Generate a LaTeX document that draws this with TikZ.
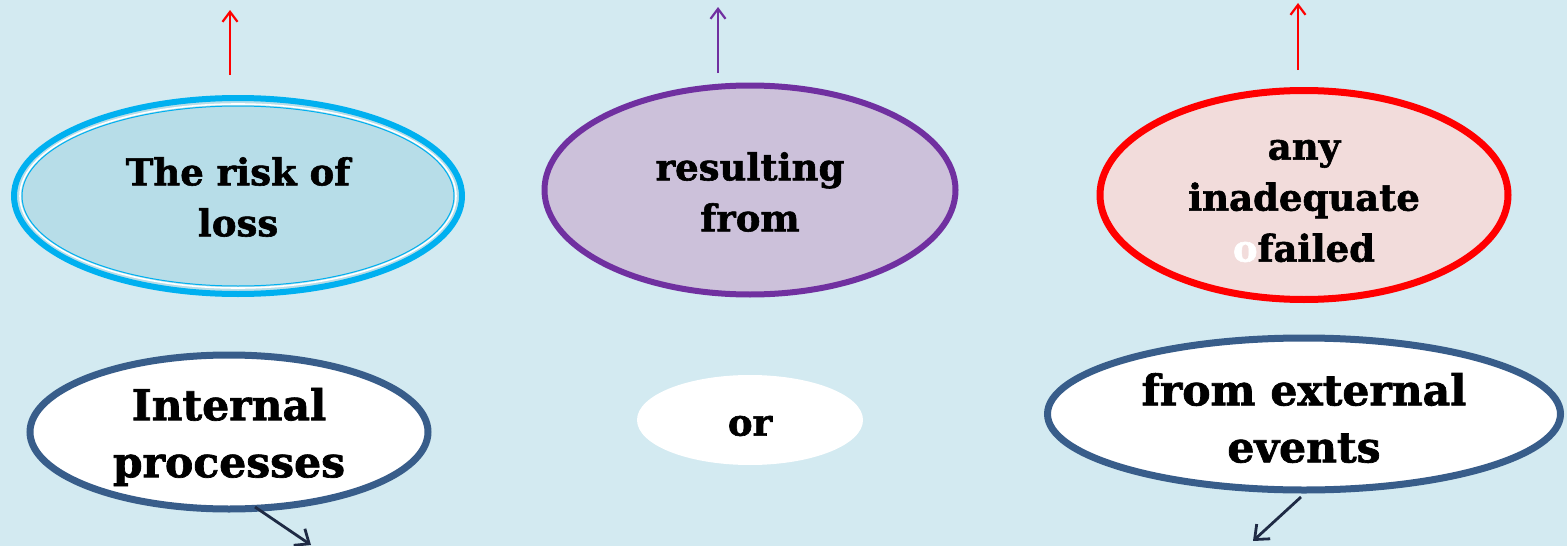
\documentclass[tikz,border=0pt]{standalone}
\usepackage{fontspec}
\setmainfont{DejaVu Serif}[BoldFeatures={FakeBold=1.6}]
\usetikzlibrary{shapes.geometric,arrows.meta,calc}
\definecolor{bgcol}{HTML}{D3EAF1}
\definecolor{bluefill}{HTML}{B7DDE8}
\definecolor{blueline}{HTML}{00B0F0}
\definecolor{purplefill}{HTML}{CCC1DA}
\definecolor{purpleline}{HTML}{7030A0}
\definecolor{redfill}{HTML}{F2DCDB}
\definecolor{navyline}{HTML}{385D8A}
\definecolor{arrownavy}{HTML}{1F2B45}
\tikzset{
  oval/.style={ellipse, inner sep=0pt},
  toptext/.style={align=center, text=black, font=\fontsize{37}{51}\selectfont\bfseries},
  bottext/.style={align=center, text=black, font=\fontsize{42.5}{57}\selectfont\bfseries},
  uparrow/.style={line width=2.2pt, -{Straight Barb[length=10pt,width=15pt]}},
  downarrow/.style={line width=2.8pt, arrownavy, -{Straight Barb[length=12pt,width=20pt]}}
}
\begin{document}
\begin{tikzpicture}[x=1pt,y=1pt]
  \fill[bgcol] (0,0) rectangle (1567,-546);
  \useasboundingbox (0,0) rectangle (1567,-546);

  % upper row: shapes
  \node[oval, fill=bluefill, draw=blueline, line width=6pt,
        minimum width=448pt, minimum height=196pt] (risk) at (238,-196) {};
  \draw[white, line width=1.6pt] (risk.center) ellipse [x radius=218, y radius=92];
  \draw[blueline, line width=1pt] (risk.center) ellipse [x radius=216, y radius=90];
  \node[oval, fill=purplefill, draw=purpleline, line width=6pt,
        minimum width=411pt, minimum height=209pt] (result) at (750,-190) {};
  \node[oval, fill=redfill, draw=red, line width=7pt,
        minimum width=408pt, minimum height=209pt] (failed) at (1304,-195) {};

  % upper row: labels
  \node[toptext] (risktxt) at ($(risk.center)+(0,-1)$) {The risk of\\loss};
  \node[toptext] (resulttxt) at ($(result.center)+(0,-2)$) {resulting\\from};
  \node[toptext] (failedtxt) at ($(failed.center)+(0,-6)$) {any\\inadequate\\\textcolor{white}{o}failed};

  % lower row: shapes
  \node[oval, fill=white, draw=navyline, line width=7pt,
        minimum width=398pt, minimum height=154pt] (internal) at (229,-432) {};
  \node[oval, fill=white, minimum width=226pt, minimum height=90pt] (or) at (750,-420) {};
  \node[oval, fill=white, draw=navyline, line width=7pt,
        minimum width=513pt, minimum height=152pt] (external) at (1304,-414) {};

  % lower row: labels
  \node[bottext] (internaltxt) at ($(internal.center)+(0,-5)$) {Internal\\processes};
  \node[toptext] (ortxt) at ($(or.center)+(0,-6)$) {or};
  \node[bottext] (externaltxt) at ($(external.center)+(0,-4)$) {from external\\events};

  % arrows
  \coordinate (a1s) at (230,-75);  \coordinate (a1e) at (230,-10);
  \coordinate (a2s) at (718,-73);  \coordinate (a2e) at (718,-7);
  \coordinate (a3s) at (1298,-70); \coordinate (a3e) at (1298,-3);
  \draw[uparrow, red] (a1s) -- (a1e);
  \draw[uparrow, purpleline] (a2s) -- (a2e);
  \draw[uparrow, red] (a3s) -- (a3e);

  \coordinate (b1s) at (255,-507); \coordinate (b1e) at (311,-545);
  \coordinate (b2s) at (1301,-497); \coordinate (b2e) at (1253,-541);
  \draw[downarrow] (b1s) -- (b1e);
  \draw[downarrow] (b2s) -- (b2e);
\end{tikzpicture}
\end{document}
